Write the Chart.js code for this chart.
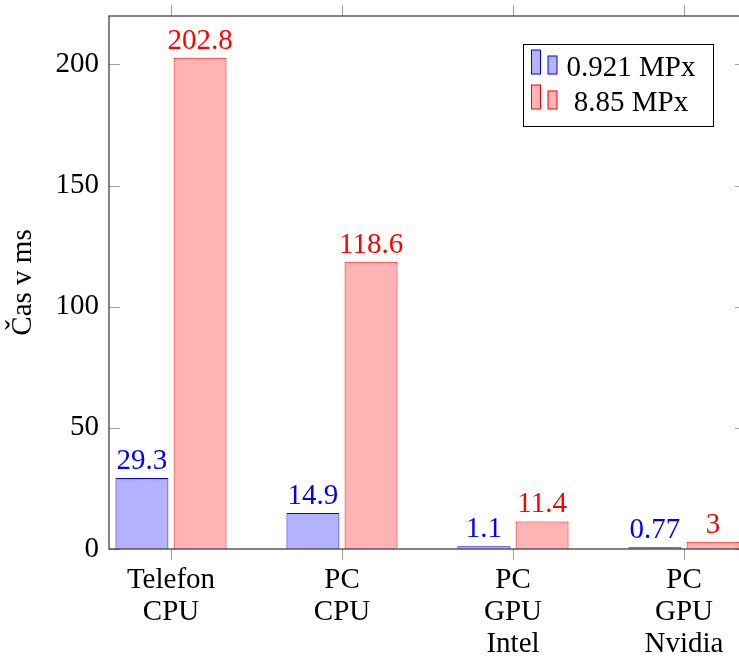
<!DOCTYPE html>
<html>
<head>
<meta charset="utf-8">
<script src="https://cdn.jsdelivr.net/npm/chart.js@4"></script>
<style>
  html, body { margin: 0; padding: 0; overflow: hidden; background: #fff; }
  #cas { display: block; }
</style>
</head>
<body>
<canvas id="cas" width="760" height="657"></canvas>
<script>
// cas zpracovani - telefon vs PC

const categories = [
  ['Telefon', 'CPU'],
  ['PC', 'CPU'],
  ['PC', 'GPU', 'Intel'],
  ['PC', 'GPU', 'Nvidia']
]
const seriesNames = ['0.921 MPx', '8.85 MPx']
const smallRes = [29.3, 14.9, 1.1, 0.77] // 0.921 MPx
const bigRes = [202.8, 118.6, 11.4, 3]   // 8.85 MPx
const yTicks = [0, 50, 100, 150, 200]

const FONT = '"Liberation Serif", "Times New Roman", serif'
const FS = 29
const blue = 'rgb(0, 0, 255)'
const red = 'rgb(255, 0, 0)'

// popisky hodnot nad sloupci
const valueLabels = {
  id: 'valueLabels',
  afterDatasetsDraw(chart) {
    const ctx = chart.ctx
    ctx.save()
    ctx.font = FS + 'px ' + FONT
    ctx.textAlign = 'center'
    ctx.textBaseline = 'alphabetic'
    chart.data.datasets.forEach((ds, i) => {
      const meta = chart.getDatasetMeta(i)
      ctx.fillStyle = ds.borderColor
      meta.data.forEach((el, j) => {
        ctx.fillText(String(ds.data[j].y), el.x, el.y - 9)
      })
    })
    ctx.restore()
  }
}

// ramecek osy a carky (pgfplots styl)
const frame = {
  id: 'frame',
  afterDraw(chart) {
    const ctx = chart.ctx
    const a = chart.chartArea
    const xs = chart.scales.x
    const ys = chart.scales.y
    const tl = 11
    ctx.save()
    ctx.strokeStyle = '#a0a0a0'
    ctx.lineWidth = 1
    ctx.beginPath()
    xs.ticks.forEach(t => {
      const px = Math.round(xs.getPixelForValue(t.value)) + 0.5
      ctx.moveTo(px, a.top); ctx.lineTo(px, a.top - tl)
      ctx.moveTo(px, a.bottom); ctx.lineTo(px, a.bottom + tl)
    })
    ys.ticks.forEach(t => {
      const py = Math.round(ys.getPixelForValue(t.value)) + 0.5
      ctx.moveTo(a.left, py); ctx.lineTo(a.left + tl, py)
      ctx.moveTo(a.right, py); ctx.lineTo(a.right - tl, py)
    })
    ctx.stroke()
    ctx.strokeStyle = '#333'
    ctx.lineWidth = 1.2
    ctx.strokeRect(a.left, a.top, a.right - a.left, a.bottom - a.top)
    ctx.restore()
  }
}

// legenda uvnitr grafu
const boxLegend = {
  id: 'boxLegend',
  afterDraw(chart) {
    const ctx = chart.ctx
    const a = chart.chartArea
    const w = 190, h = 82
    const x0 = a.right - 33 - w
    const y0 = a.top + 28
    ctx.save()
    ctx.fillStyle = '#fff'
    ctx.fillRect(x0, y0, w, h)
    ctx.strokeStyle = '#000'
    ctx.lineWidth = 1
    ctx.strokeRect(x0 + 0.5, y0 + 0.5, w, h)
    ctx.font = FS + 'px ' + FONT
    ctx.textAlign = 'center'
    ctx.textBaseline = 'alphabetic'
    chart.data.datasets.forEach((ds, i) => {
      const base = y0 + 30 + i * 35
      ctx.fillStyle = ds.backgroundColor
      ctx.strokeStyle = ds.borderColor
      ctx.lineWidth = 1
      ctx.fillRect(x0 + 8.5, base - 24, 9, 24)
      ctx.strokeRect(x0 + 8.5, base - 24, 9, 24)
      ctx.fillRect(x0 + 25, base - 18, 9, 18)
      ctx.strokeRect(x0 + 25, base - 18, 9, 18)
      ctx.fillStyle = '#000'
      ctx.fillText(ds.label, x0 + 108, base + 2)
    })
    ctx.restore()
  }
}

const ctx = document.getElementById('cas').getContext('2d')
const casChart = new Chart(ctx, {
  type: 'bar',
  data: {
    datasets: [{
      label: seriesNames[0],
      data: smallRes.map((v, i) => ({ x: i, y: v })),
      backgroundColor: 'rgb(179, 179, 255)',
      borderColor: blue,
      borderWidth: 1
    }, {
      label: seriesNames[1],
      data: bigRes.map((v, i) => ({ x: i, y: v })),
      backgroundColor: 'rgb(255, 179, 179)',
      borderColor: red,
      borderWidth: 1
    }]
  },
  options: {
    responsive: false,
    animation: false,
    categoryPercentage: 0.68,
    barPercentage: 0.91,
    layout: { padding: { top: 16, right: 14, left: 0, bottom: 0 } },
    plugins: {
      legend: { display: false },
      tooltip: { enabled: false }
    },
    scales: {
      x: {
        type: 'linear',
        offset: false,
        min: -0.3626,
        max: 3.3626,
        grid: { display: false, drawTicks: false },
        border: { display: false },
        afterBuildTicks: s => { s.ticks = categories.map((c, i) => ({ value: i })) },
        afterFit: s => { s.height = 108; s.paddingLeft = 0; s.paddingRight = 0 },
        ticks: {
          autoSkip: false,
          maxRotation: 0,
          padding: 15,
          color: '#000',
          font: { family: FONT, size: FS, lineHeight: 1.11 },
          callback: v => categories[v]
        }
      },
      y: {
        min: 0,
        max: 220,
        grid: { display: false, drawTicks: false },
        border: { display: false },
        afterBuildTicks: s => { s.ticks = yTicks.map(v => ({ value: v })) },
        afterFit: s => { s.width = 109; s.paddingTop = 0; s.paddingBottom = 0 },
        ticks: {
          padding: 10,
          color: '#000',
          font: { family: FONT, size: FS }
        },
        title: {
          display: true,
          text: 'Čas v ms',
          color: '#000',
          font: { family: FONT, size: FS },
          padding: { top: 6, bottom: 0 }
        }
      }
    }
  },
  plugins: [valueLabels, frame, boxLegend]
})
</script>
</body>
</html>
